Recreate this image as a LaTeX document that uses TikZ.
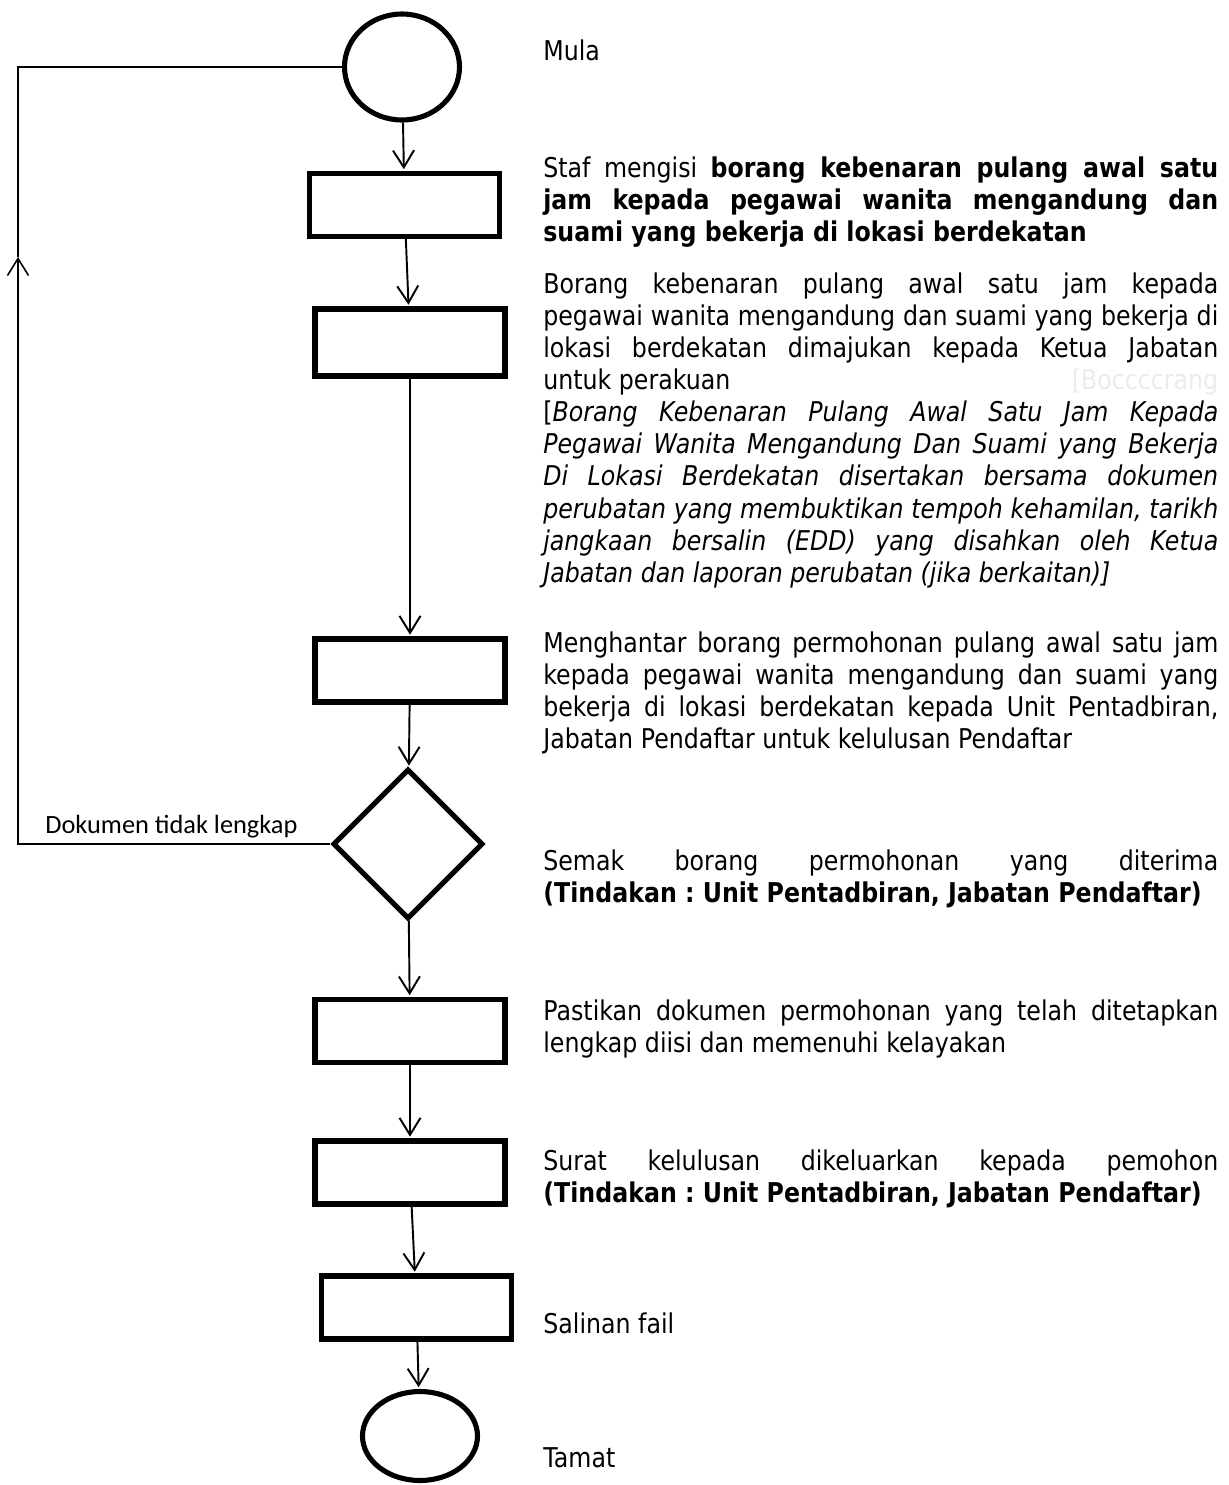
\documentclass[tikz,border=0pt]{standalone}
\usepackage{fontspec}
\setmainfont{DejaVu Sans}[FakeStretch=0.87]
\newfontfamily\labelfont{Carlito}
\usetikzlibrary{shapes.geometric,arrows.meta,positioning}
\definecolor{hiddentxt}{gray}{0.92}
\tolerance=10000
\hbadness=10000
\hyphenpenalty=10000
\frenchspacing

\begin{document}
\begin{tikzpicture}[x=0.02cm, y=-0.02cm,
    term/.style={ellipse, draw, line width=2.9pt, minimum width=2.3cm, minimum height=2.12cm, inner sep=0pt},
    proc/.style={rectangle, draw, line width=2.9pt, minimum width=3.8cm, minimum height=1.26cm, inner sep=0pt},
    dec/.style={diamond, draw, line width=2.9pt, minimum width=3.0cm, minimum height=3.0cm, inner sep=0pt},
    flow/.style={-{Straight Barb[length=0.34cm, width=0.42cm]}, line width=1.1pt, shorten >=1pt},
    backflow/.style={-{Straight Barb[length=0.34cm, width=0.42cm]}, line width=0.9pt},
    back/.style={line width=0.9pt},
    desc/.style={anchor=north west, inner sep=0pt, text width=13.5cm, align=justify,
        font=\fontsize{15.5}{18.3}\selectfont}
]
    \useasboundingbox (0,0) rectangle (1228,1485);

    % flowchart column
    \node[term] (mula) at (402,67) {};
    \node[proc] (isi) at (404.5,205) {};
    \node[proc, minimum height=1.34cm] (maju) at (410,342.5) {};
    \node[proc] (hantar) at (410,670.5) {};
    \node[dec] (semak) at (408,844) {};
    \node[proc] (pastikan) at (410,1031) {};
    \node[proc] (surat) at (410,1172.5) {};
    \node[proc] (salinan) at (416.5,1307.5) {};
    \node[term, minimum height=1.78cm] (tamat) at (420,1436) {};

    \draw[flow] (mula) -- (isi);
    \draw[flow] (isi) -- (maju);
    \draw[flow] (maju) -- (hantar);
    \draw[flow] (hantar) -- (semak);
    \draw[flow] (semak) -- (pastikan);
    \draw[flow] (pastikan) -- (surat);
    \draw[flow] (surat) -- (salinan);
    \draw[flow] (salinan) -- (tamat);

    % back to start
    \coordinate (fbtip) at (18,257);
    \draw[backflow] (semak.west) -| (fbtip);
    \draw[back] (fbtip) |- (mula.west);
    \node[anchor=base west, inner sep=0pt, font=\labelfont\fontsize{15}{18}\selectfont] (fblabel) at (45,833) {Dokumen tidak lengkap};

    % descriptions
    \node[desc] (mulatxt) at (543,39) {Mula};
    \node[desc] (isitxt) at (543,156) {Staf mengisi \textbf{borang kebenaran pulang awal satu\linebreak
        jam kepada pegawai wanita mengandung dan\linebreak
        suami yang bekerja di lokasi berdekatan}};
    \node[desc] (majutxt) at (543,272) {Borang kebenaran pulang awal satu jam kepada\linebreak
        pegawai wanita mengandung dan suami yang bekerja di\linebreak
        lokasi berdekatan dimajukan kepada Ketua Jabatan\linebreak
        untuk perakuan\hfill\textcolor{hiddentxt}{[Boccccrang}\linebreak{}%
        [\textit{Borang Kebenaran Pulang Awal Satu Jam Kepada\linebreak
        Pegawai Wanita Mengandung Dan Suami yang Bekerja\linebreak
        Di Lokasi Berdekatan disertakan bersama dokumen\linebreak
        perubatan yang membuktikan tempoh kehamilan, tarikh\linebreak
        jangkaan bersalin (EDD) yang disahkan oleh Ketua\linebreak
        Jabatan dan laporan perubatan (jika berkaitan)]}};
    \node[desc] (hantartxt) at (543,631) {Menghantar borang permohonan pulang awal satu jam\linebreak
        kepada pegawai wanita mengandung dan suami yang\linebreak
        bekerja di lokasi berdekatan kepada Unit Pentadbiran,\linebreak
        Jabatan Pendaftar untuk kelulusan Pendaftar};
    \node[desc] (semaktxt) at (543,849) {Semak borang permohonan yang diterima\linebreak
        \mbox{\textbf{(Tindakan : Unit Pentadbiran, Jabatan Pendaftar)}}};
    \node[desc] (pastikantxt) at (543,999) {Pastikan dokumen permohonan yang telah ditetapkan\linebreak
        lengkap diisi dan memenuhi kelayakan};
    \node[desc] (surattxt) at (543,1149) {Surat kelulusan dikeluarkan kepada pemohon\linebreak
        \mbox{\textbf{(Tindakan : Unit Pentadbiran, Jabatan Pendaftar)}}};
    \node[desc] (salinantxt) at (543,1312) {Salinan fail};
    \node[desc] (tamattxt) at (543,1447) {Tamat};
\end{tikzpicture}
\end{document}
